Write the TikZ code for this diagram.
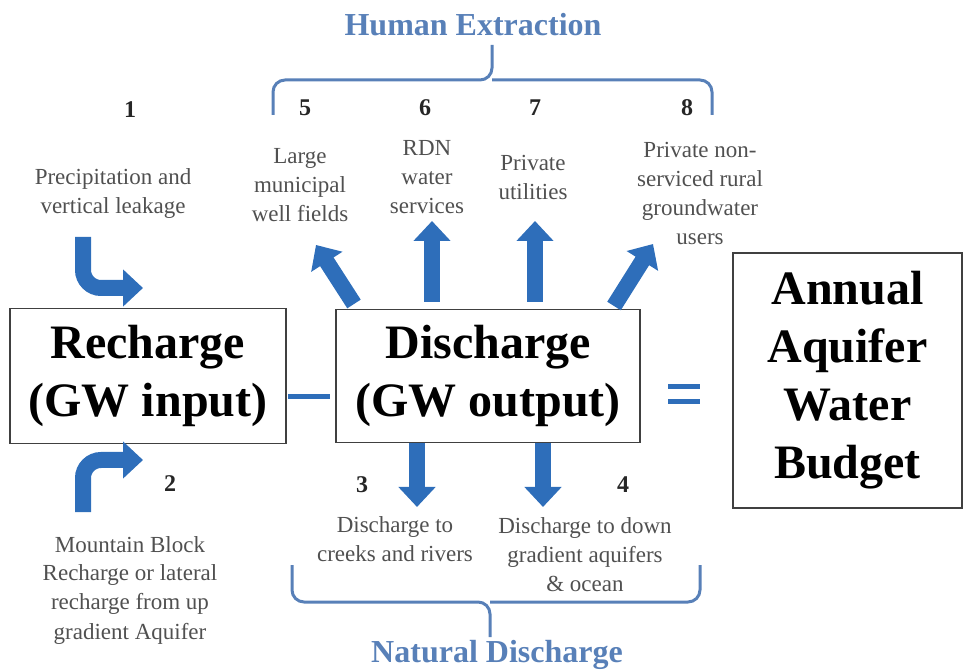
\documentclass[tikz,border=0pt]{standalone}
\usepackage{fontspec}
\setmainfont{Liberation Serif}
\usepackage{tikz}
\usetikzlibrary{arrows.meta}
\definecolor{arrowblue}{RGB}{46,110,186}
\definecolor{braceblue}{RGB}{88,128,184}
\definecolor{notegray}{RGB}{80,80,80}

\begin{document}
\begin{tikzpicture}[x=0.5pt,y=-0.5pt,
  box/.style={draw=black!75,line width=0.7pt,align=center,inner sep=0pt,
    font=\bfseries\fontsize{24}{29}\selectfont},
  note/.style={text=notegray,align=center,font=\fontsize{11.5}{14.5}\selectfont},
  num/.style={font=\bfseries\fontsize{12}{14}\selectfont,text=black!85},
  group/.style={text=braceblue,font=\bfseries\fontsize{16}{19}\selectfont},
  flow/.style={arrowblue,line width=8pt,-{Triangle[length=10pt,width=18pt]}},
  bar/.style={arrowblue,line width=2.5pt},
  brace/.style={braceblue,line width=1.5pt,rounded corners=6pt}]
  \useasboundingbox (0,0) rectangle (967,672);

  \node[box,minimum width=138pt,minimum height=67.5pt] (rech) at (148,376) {Recharge\\(GW input)};
  \node[box,minimum width=152pt,minimum height=66.5pt] (dis) at (488,376) {Discharge\\(GW output)};
  \node[box,minimum width=114.5pt,minimum height=127.5pt] (budget) at (847.5,380.5) {Annual\\Aquifer\\Water\\Budget};

  \draw[bar] (288,397) -- (330,397);
  \draw[bar] (668,387) -- (700,387);
  \draw[bar] (668,402) -- (700,402);

  \node[num] (n1) at (130,110) {1};
  \node[note] (d1) at (113,194) {Precipitation and\\vertical leakage};
  \node[num] (n2) at (170,484) {2};
  \node[note] (d2) at (130,590) {Mountain Block\\Recharge or lateral\\recharge from up\\gradient Aquifer};
  \node[num] (n3) at (362,485) {3};
  \node[note] (d3) at (395,539) {Discharge to\\creeks and rivers};
  \node[num] (n4) at (623,485) {4};
  \node[note] (d4) at (585,555) {Discharge to down\\gradient aquifers\\\& ocean};
  \node[num] (n5) at (305,108) {5};
  \node[note] (d5) at (300,185) {Large\\municipal\\well fields};
  \node[num] (n6) at (425,108) {6};
  \node[note] (d6) at (427,177) {RDN\\water\\services};
  \node[num] (n7) at (535,108) {7};
  \node[note] (d7) at (533,178) {Private\\utilities};
  \node[num] (n8) at (687,108) {8};
  \node[note] (d8) at (700,194) {Private non-\\serviced rural\\groundwater\\users};

  \node[group] (human) at (473,25) {Human Extraction};
  \node[group] (natural) at (497,655) {Natural Discharge};

  \coordinate (s1) at (83,237);  \coordinate (e1) at (143,288);
  \coordinate (s2) at (83,512);  \coordinate (e2) at (143,460);
  \coordinate (s3) at (417,443); \coordinate (e3) at (417,507);
  \coordinate (s4) at (543,443); \coordinate (e4) at (543,507);
  \coordinate (s5) at (354,304); \coordinate (e5) at (316,245);
  \coordinate (s6) at (432,302); \coordinate (e6) at (432,221);
  \coordinate (s7) at (535,302); \coordinate (e7) at (535,221);
  \coordinate (s8) at (614,306); \coordinate (e8) at (653,244);

  \draw[flow,rounded corners=9pt] (s1) |- (e1);
  \draw[flow,rounded corners=9pt] (s2) |- (e2);
  \foreach \i in {3,...,8}
    \draw[flow] (s\i) -- (e\i);

  \coordinate (htip) at (492,45);
  \draw[brace] (273,115) |- (492,80) -- (htip);
  \draw[brace] (712,115) |- (492,80);
  \coordinate (ntip) at (490,637);
  \draw[brace] (292,565) |- (490,602) -- (ntip);
  \draw[brace] (700,565) |- (490,602);
\end{tikzpicture}
\end{document}
